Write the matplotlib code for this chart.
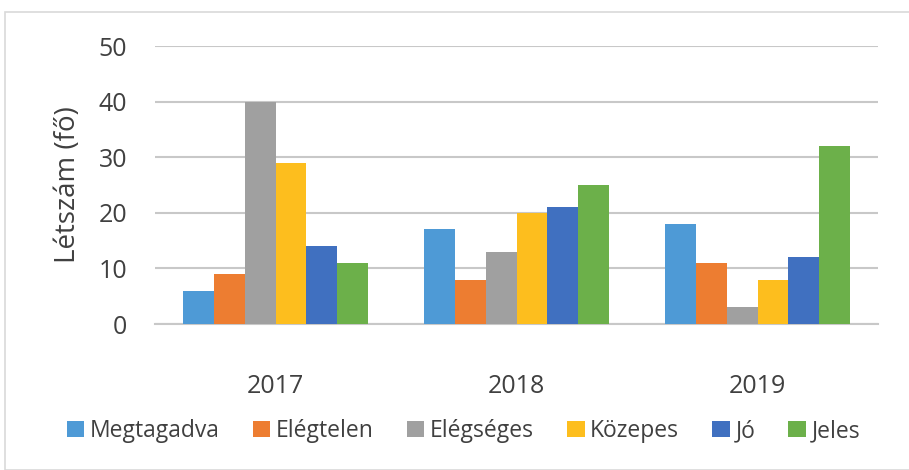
import numpy as np
import matplotlib.pyplot as plt
from matplotlib.patches import Rectangle

years = ['2017', '2018', '2019']
grades = ['Megtagadva', 'Elégtelen', 'Elégséges', 'Közepes', 'Jó', 'Jeles']
megtagadva = [6, 17, 18]
elegtelen = [9, 8, 11]
elegseges = [40, 13, 3]
kozepes = [29, 20, 8]
jo = [14, 21, 12]
jeles = [11, 25, 32]
series = [megtagadva, elegtelen, elegseges, kozepes, jo, jeles]
colors = ['#4e9ad6', '#ed7d31', '#a0a0a0', '#fdbe1e', '#4070c0', '#6cb04a']

plt.rcParams['font.family'] = ['Open Sans', 'DejaVu Sans']

fig = plt.figure(figsize=(9.09, 4.70), dpi=100)
fig.patches.append(Rectangle((5 / 909, 0), 1, 1 - 12 / 470, transform=fig.transFigure,
                             fill=False, edgecolor='#d9d9d9', linewidth=1.2))
ax = fig.add_axes([155 / 909, 1 - 324 / 470, 723 / 909, 278 / 470])

x = np.arange(len(years))
w = 0.128
for i, (vals, c) in enumerate(zip(series, colors)):
    ax.bar(x + (i - 2.5) * w, vals, w, color=c, label=grades[i], zorder=3)

ax.set_xlim(-0.5, 2.5)
ax.set_ylim(0, 50)
ax.set_yticks(range(0, 51, 10))
ax.set_xticks(x)
ax.set_xticklabels(years)
ax.yaxis.grid(True, color='#c8c8c8', linewidth=1.5, zorder=0)
for s in ['top', 'right', 'left']:
    ax.spines[s].set_visible(False)
ax.spines['bottom'].set_color('#c8c8c8')
ax.spines['bottom'].set_linewidth(1.5)
ax.tick_params(axis='both', length=0, labelsize=18, colors='#404040')
ax.tick_params(axis='x', pad=36)
ax.tick_params(axis='y', pad=20)
ax.set_ylabel('Létszám (fő)', fontsize=20, color='#404040', labelpad=12)

leg = fig.legend(loc='center', bbox_to_anchor=(0.51, 1 - 431 / 470), ncol=6, frameon=False,
                 fontsize=16.5, handlelength=0.75, handleheight=0.75, handletextpad=0.25,
                 columnspacing=1.45)
for t in leg.get_texts():
    t.set_color('#404040')

fig.savefig('out.png', dpi=100)
